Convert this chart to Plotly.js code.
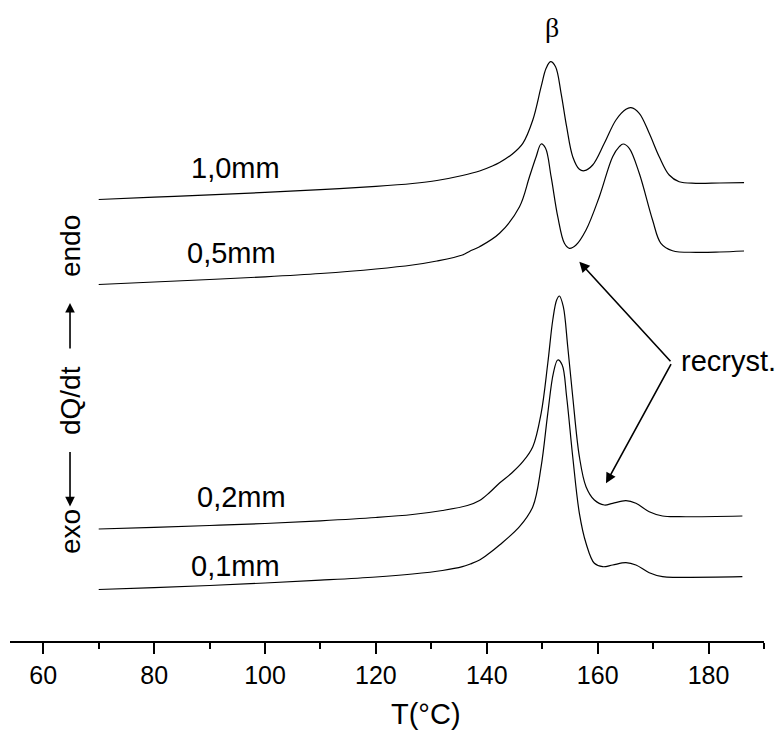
<!DOCTYPE html>
<html>
<head>
<meta charset="utf-8">
<script src="https://cdn.plot.ly/plotly-3.0.1.min.js"></script>
<style>html,body{margin:0;padding:0;background:#fff;}#chart{width:780px;height:735px;}</style>
</head>
<body>
<div id="chart"></div>
<script>
// DSC traces (arbitrary, vertically offset units) vs temperature
const T_10mm = [70,80,90,100,110,120,126.6,131,135.6,138.7,141,142.3,144.5,146.5,148.3,149.8,150.7,151.5,152.4,153.4,154.4,155.5,156.7,157.6,159.1,161.2,163.3,165.1,166.0,167.5,169.3,171.1,172.9,174.7,177.7,182,186.4];
const Y_10mm = [44.15,44.38,44.61,44.86,45.14,45.46,45.75,46.05,46.55,47.00,47.50,47.85,48.65,49.77,52.10,55.43,57.27,57.93,57.43,54.77,51.43,48.43,47.17,47.03,47.60,49.77,52.10,53.17,53.33,52.77,50.77,48.43,46.60,45.93,45.77,45.80,45.83];

const T_05mm = [70,80,90,100,110,120,126.6,131,135.6,137,138.7,142.3,145.9,147.7,148.9,149.8,150.6,151.6,152.8,154.0,154.9,156.1,157.9,160.3,162.7,163.9,164.6,165.7,167.5,169.9,171.4,173.5,177.7,182,186.4];
const Y_05mm = [35.65,35.90,36.15,36.42,36.75,37.20,37.60,38.00,38.60,39.00,39.43,40.77,43.43,46.43,48.43,49.70,49.27,46.43,42.43,39.77,39.27,39.60,41.10,44.43,48.43,49.43,49.70,49.27,46.77,42.10,39.77,39.03,38.87,38.90,39.00];

const T_02mm = [70,80,90,100,110,120,126.6,132,136.5,138.7,140.5,142.3,144.5,146.5,148.3,149.8,151.0,151.9,152.6,153.1,153.8,154.6,155.5,156.7,157.9,159.4,161.2,162.7,165.1,166.9,169.3,171.7,174.7,186.1];
const Y_02mm = [11.20,11.37,11.55,11.75,12.02,12.35,12.65,13.05,13.55,14.05,14.85,15.80,16.80,17.93,19.43,22.77,27.77,32.10,34.10,34.50,33.43,29.43,24.43,18.43,15.43,14.10,13.60,13.77,14.03,13.77,12.93,12.50,12.43,12.50];

const T_01mm = [70,80,90,100,110,120,126.6,132,135.6,137,138.7,140.5,142.3,145.9,148.3,149.8,151.0,152.0,152.8,153.6,154.4,155.5,156.7,157.9,159.4,160.9,162.7,165.1,166.9,169.3,171.7,174.7,186.1];
const Y_01mm = [5.15,5.33,5.55,5.80,6.08,6.40,6.70,7.05,7.43,7.70,8.10,8.80,9.60,11.43,13.43,17.43,22.77,26.77,28.10,27.60,24.43,18.43,12.77,9.77,7.77,7.43,7.60,7.83,7.60,6.83,6.43,6.37,6.43];

const seriesNames = ["1,0mm","0,5mm","0,2mm","0,1mm"];
const labelT = [94.6, 94.0, 95.8, 94.75];
const labelY = [47.3, 38.8, 14.4, 7.5];

const xTickVals = [60,80,100,120,140,160,180];
const xMinorVals = [70,90,110,130,150,170,190];

const lineStyle = {color:'#000', width:1.2, shape:'spline', smoothing:1.0};
const data = [
  {x:T_10mm, y:Y_10mm, name:seriesNames[0], mode:'lines', line:lineStyle},
  {x:T_05mm, y:Y_05mm, name:seriesNames[1], mode:'lines', line:lineStyle},
  {x:T_02mm, y:Y_02mm, name:seriesNames[2], mode:'lines', line:lineStyle},
  {x:T_01mm, y:Y_01mm, name:seriesNames[3], mode:'lines', line:lineStyle}
];

const sans = 'Liberation Sans, Arial, Helvetica, sans-serif';
const labFont = {family:sans, size:29, color:'#000'};
const annotations = [];
for (let i = 0; i < seriesNames.length; i++) {
  annotations.push({x:labelT[i], y:labelY[i], xref:'x', yref:'y', text:seriesNames[i], showarrow:false,
    font:labFont, xanchor:'center', yanchor:'middle'});
}
// beta label
annotations.push({x:151.8, y:61.4, xref:'x', yref:'y', text:'β', showarrow:false, xanchor:'center', yanchor:'middle',
  font:{family:'Liberation Serif, Times New Roman, serif', size:28, color:'#000'}});
// recryst. label + arrows
annotations.push({x:174.7, y:28.0, xref:'x', yref:'y', text:'recryst.', showarrow:false, xanchor:'left', yanchor:'middle',
  font:labFont});
annotations.push({x:156.69, y:37.93, ax:173.38, ay:27.83, axref:'x', ayref:'y', xref:'x', yref:'y', text:'',
  showarrow:true, arrowhead:2, arrowsize:1.3, arrowwidth:1.6, arrowcolor:'#000'});
annotations.push({x:161.5, y:15.77, ax:173.38, ay:27.83, axref:'x', ayref:'y', xref:'x', yref:'y', text:'',
  showarrow:true, arrowhead:2, arrowsize:1.3, arrowwidth:1.6, arrowcolor:'#000'});
// x-axis title (offset right of centre as in the original)
annotations.push({x:0.5517, y:-0.1139, xref:'paper', yref:'paper', text:'T(°C)', showarrow:false,
  xanchor:'center', yanchor:'middle', font:{family:sans, size:29, color:'#000'}});
// y-axis title pieces: exo <-- dQ/dt --> endo
const yTitleFont = {family:sans, size:28, color:'#000'};
const yt = (y, t) => ({x:0.0796, y:y, xref:'paper', yref:'paper', text:t, textangle:-90, showarrow:false,
  xanchor:'center', yanchor:'middle', font:yTitleFont});
annotations.push(yt(0.1700, 'exo'));
annotations.push(yt(0.3744, 'dQ/dt'));
annotations.push(yt(0.6162, 'endo'));
annotations.push({x:0.0796, y:0.5273, xref:'paper', yref:'paper', ax:0, ay:47, text:'', showarrow:true,
  arrowhead:2, arrowsize:1.2, arrowwidth:1.6, arrowcolor:'#000'});
annotations.push({x:0.0796, y:0.2100, xref:'paper', yref:'paper', ax:0, ay:-56, text:'', showarrow:true,
  arrowhead:2, arrowsize:1.2, arrowwidth:1.6, arrowcolor:'#000'});

const layout = {
  width:780, height:735,
  margin:{l:10, r:16, t:0, b:94},
  paper_bgcolor:'#fff', plot_bgcolor:'#fff',
  showlegend:false,
  font:{family:sans, color:'#000'},
  xaxis:{
    range:[54,190], showgrid:false, zeroline:false,
    showline:true, linecolor:'#000', linewidth:2,
    ticks:'outside', ticklen:11, tickwidth:2, tickcolor:'#000',
    tickvals:xTickVals, ticktext:xTickVals.map(String),
    tickfont:{family:sans, size:25, color:'#000'},
    minor:{tickvals:xMinorVals, ticks:'outside', ticklen:6, tickwidth:2, tickcolor:'#000'},
    automargin:false
  },
  yaxis:{
    range:[0,64.1], showgrid:false, zeroline:false, showline:false,
    showticklabels:false, ticks:'', automargin:false
  },
  annotations:annotations
};

Plotly.newPlot('chart', data, layout, {displayModeBar:false, staticPlot:true});
</script>
</body>
</html>
